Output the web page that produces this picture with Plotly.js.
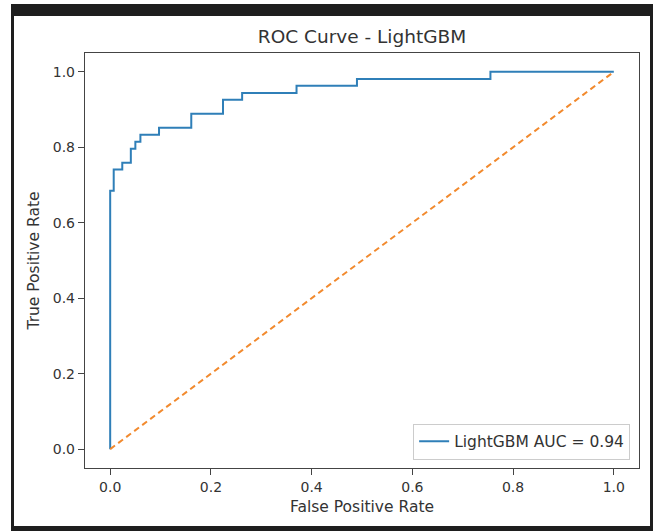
<!DOCTYPE html>
<html>
<head>
<meta charset="utf-8">
<script src="https://cdn.plot.ly/plotly-3.0.1.min.js"></script>
<style>
  html, body { margin: 0; padding: 0; background: #eeeeee; width: 655px; height: 531px; overflow: hidden; }
  #chart { position: absolute; left: 0; top: 0; width: 655px; height: 531px; }
  .frame { position: absolute; background: #1e1e1e; pointer-events: none; }
</style>
</head>
<body>
<div id="chart"></div>
<div class="frame" style="left:11px; top:4px; width:642px; height:12px;"></div>
<div class="frame" style="left:11px; top:4px; width:3px; height:527px;"></div>
<div class="frame" style="left:650px; top:4px; width:3px; height:527px;"></div>
<div class="frame" style="left:11px; top:526px; width:642px; height:5px;"></div>
<script>
const fpr = [0, 0, 0.007, 0.024, 0.041, 0.05, 0.06, 0.097, 0.161, 0.224, 0.262, 0.37, 0.49, 0.755, 1.0];
const tpr = [0, 0.685, 0.741, 0.759, 0.796, 0.815, 0.833, 0.852, 0.889, 0.926, 0.944, 0.963, 0.981, 1.0, 1.0];
const chanceX = [0, 1];
const chanceY = [0, 1];
const tickVals = [0, 0.2, 0.4, 0.6, 0.8, 1.0];
const tickText = ["0.0", "0.2", "0.4", "0.6", "0.8", "1.0"];
const curveName = "LightGBM AUC = 0.94";

const font = "DejaVu Sans, Verdana, sans-serif";
const traces = [
  { x: fpr, y: tpr, type: "scatter", mode: "lines", name: curveName,
    line: { color: "#2f7fb8", width: 2, shape: "hv" } },
  { x: chanceX, y: chanceY, type: "scatter", mode: "lines", showlegend: false,
    line: { color: "#f28a2e", width: 2, dash: "6px,4px" } }
];
const axisCommon = {
  range: [-0.05, 1.05], tickvals: tickVals, ticktext: tickText,
  showgrid: false, zeroline: false, showline: true, mirror: true,
  linecolor: "#444", linewidth: 1.2, ticks: "outside", ticklen: 6, tickcolor: "#444",
  tickfont: { family: font, size: 14, color: "#333" }
};
const layout = {
  width: 655, height: 531,
  margin: { l: 85, r: 16, t: 53, b: 63 },
  paper_bgcolor: "#ffffff", plot_bgcolor: "#ffffff",
  font: { family: font, color: "#333" },
  title: { text: "ROC Curve - LightGBM", font: { family: font, size: 18.5, color: "#333" },
           x: 0.5, xref: "paper", y: 1 - 37 / 531, yref: "container", yanchor: "middle" },
  xaxis: Object.assign({}, axisCommon, {
    title: { text: "False Positive Rate", font: { family: font, size: 15.5, color: "#333" }, standoff: 7 } }),
  yaxis: Object.assign({}, axisCommon, {
    title: { text: "True Positive Rate", font: { family: font, size: 15.5, color: "#333" }, standoff: 9 } }),
  showlegend: true,
  legend: { x: 0.984, y: 0.02, xanchor: "right", yanchor: "bottom",
            bgcolor: "rgba(255,255,255,0.9)", bordercolor: "#cccccc", borderwidth: 1,
            font: { family: font, size: 15.5, color: "#333" } }
};
Plotly.newPlot("chart", traces, layout, { displayModeBar: false, staticPlot: true });
</script>
</body>
</html>
